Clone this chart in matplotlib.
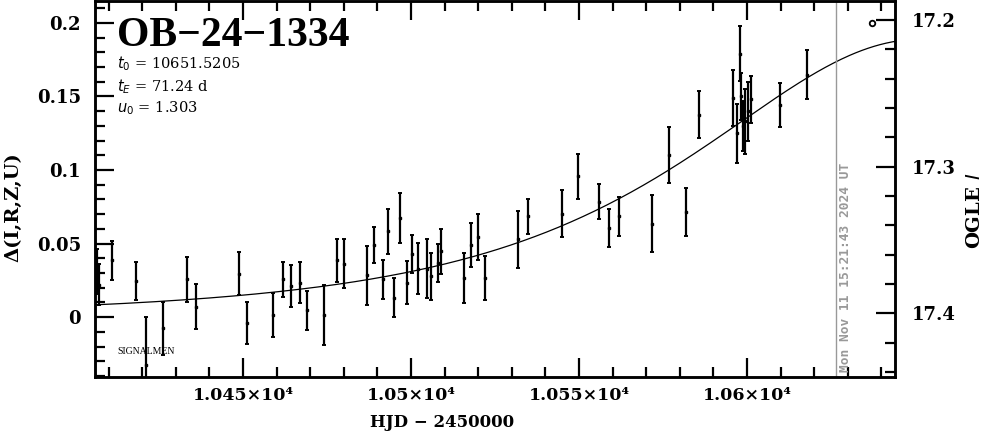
import numpy as np
import matplotlib.pyplot as plt
from matplotlib.ticker import MultipleLocator, FixedLocator, FuncFormatter

# event and model parameters shown on the chart
EVENT = 'OB\u221224\u22121334'
T0 = 10651.5205
TE = 71.24
U0 = 1.303

# photometry: HJD-2450000, delta flux, error
hjd = [10406.5, 10407.2, 10411.0, 10418.1, 10421.1, 10426.1, 10433.2, 10436.0,
       10448.9, 10451.1, 10459.0, 10462.0, 10464.2, 10467.1, 10469.0, 10474.1,
       10478.1, 10480.1, 10486.8, 10489.0, 10491.8, 10493.1, 10495.0, 10496.8,
       10498.7, 10500.2, 10502.0, 10504.9, 10506.0, 10507.9, 10508.9, 10515.9,
       10517.9, 10520.0, 10522.1, 10531.9, 10534.9, 10545.0, 10549.8, 10556.0,
       10559.0, 10561.9, 10571.8, 10576.8, 10581.8, 10585.8, 10595.9, 10596.9,
       10597.9, 10598.3, 10598.8, 10599.5, 10600.3, 10601.3, 10609.8, 10617.9]
dflux = [0.031, 0.022, 0.0386, 0.0246, -0.0325, -0.0075, 0.0258, 0.007,
         0.0296, -0.0043, 0.0014, 0.0256, 0.0212, 0.0235, 0.0047, 0.0014,
         0.0386, 0.0364, 0.0285, 0.0488, 0.0256, 0.0583, 0.0133, 0.0673,
         0.0235, 0.0427, 0.033, 0.033, 0.0278, 0.0368, 0.0447, 0.0267,
         0.0488, 0.0545, 0.0267, 0.0529, 0.0685, 0.0703, 0.0956, 0.0786,
         0.0606, 0.0687, 0.0635, 0.1105, 0.0714, 0.1376, 0.149, 0.125,
         0.179, 0.150, 0.130, 0.133, 0.140, 0.148, 0.1444, 0.1647]
derr = [0.015, 0.014, 0.0132, 0.0132, 0.0325, 0.018, 0.0153, 0.0153,
        0.0148, 0.0143, 0.0149, 0.0121, 0.0141, 0.0139, 0.0133, 0.0203,
        0.0145, 0.0165, 0.0201, 0.0123, 0.0135, 0.0153, 0.013, 0.0169,
        0.0144, 0.013, 0.0173, 0.0203, 0.016, 0.0132, 0.0152, 0.017,
        0.015, 0.0158, 0.0149, 0.0192, 0.012, 0.016, 0.0155, 0.0119,
        0.013, 0.0133, 0.0192, 0.019, 0.0165, 0.0159, 0.019, 0.020,
        0.0186, 0.016, 0.017, 0.022, 0.020, 0.016, 0.015, 0.0167]

NOW_HJD = 10626.5
NOW_TEXT = 'Mon Nov 11 15:21:43 2024 UT'

fig = plt.figure(figsize=(9.99, 4.34), dpi=100)
ax = fig.add_axes([95/999, 1-377/434, 800/999, 376/434])

# Paczynski model from the listed parameters
tm = np.linspace(10405, 10645, 400)
u = np.sqrt(U0**2 + ((tm - T0) / TE)**2)
amp = (u**2 + 2) / (u * np.sqrt(u**2 + 4))
ax.plot(tm, amp - 1, color='black', lw=0.9)

ax.errorbar(hjd, dflux, yerr=derr, fmt='s', ms=2, color='black',
            ecolor='black', elinewidth=1.6, capsize=1.6, capthick=1.4)

ax.plot([10637.2], [0.2], 'o', ms=4, mfc='white', mec='black', mew=1.3)

ax.axvline(NOW_HJD, color='#999999', lw=1)
ax.text(NOW_HJD + 1.0, -0.037, NOW_TEXT, rotation=90, ha='left', va='bottom',
        color='#999999', fontsize=9.3, family='DejaVu Sans Mono', weight='bold')

ax.set_xlim(10405.95, 10644.05)
ax.set_ylim(-0.0407, 0.2149)

xfont = dict(family='DejaVu Serif', weight='bold', size=12.5)
yfont = dict(family='DejaVu Serif', weight='bold', size=13)

ax.xaxis.set_major_locator(FixedLocator([10450, 10500, 10550, 10600]))
ax.xaxis.set_minor_locator(MultipleLocator(10))
ax.xaxis.set_major_formatter(FuncFormatter(
    lambda v, p: ('%g' % (v / 1e4)) + '\u00d710\u2074'))
ax.yaxis.set_major_locator(MultipleLocator(0.05))
ax.yaxis.set_minor_locator(MultipleLocator(0.01))
ax.yaxis.set_major_formatter(FuncFormatter(lambda v, p: '%g' % round(v, 3)))

ax.tick_params(which='both', direction='in', top=True, right=False, width=1.6)
ax.tick_params(which='major', length=14)
ax.tick_params(which='minor', length=7)
ax.tick_params(axis='y', pad=10)
ax.tick_params(axis='x', pad=7)
for lab in ax.get_xticklabels():
    lab.set(**xfont)
for lab in ax.get_yticklabels():
    lab.set(**yfont)
for s in ax.spines.values():
    s.set_linewidth(1.8)

ax2 = ax.twinx()
ax2.set_ylim(17.4435, 17.1871)
ax2.yaxis.set_major_locator(FixedLocator([17.2, 17.3, 17.4]))
ax2.yaxis.set_minor_locator(MultipleLocator(0.02))
ax2.yaxis.set_major_formatter(FuncFormatter(lambda v, p: '%.1f' % v))
ax2.tick_params(which='both', direction='in', width=1.6, pad=12)
ax2.tick_params(which='major', length=14)
ax2.tick_params(which='minor', length=7)
for lab in ax2.get_yticklabels():
    lab.set(**yfont)
for s in ax2.spines.values():
    s.set_linewidth(1.8)

labfont = dict(family='DejaVu Serif', weight='bold', size=12)
ax.set_xlabel('HJD \u2212 2450000', **labfont)
ax.xaxis.set_label_coords(0.434, -0.098)
ax.set_ylabel('\u0394(I,R,Z,U)', family='DejaVu Serif', weight='bold', size=14)
ax.yaxis.set_label_coords(-0.091, 0.451)
ax2.set_ylabel('OGLE $\\mathit{I}$', rotation=90, family='DejaVu Serif',
               weight='bold', size=14)
ax2.yaxis.set_label_coords(1.089, 0.443)

ax.text(0.027, 0.8806, EVENT, transform=ax.transAxes, ha='left', va='baseline',
        family='Liberation Serif', weight='bold', size=30)
params = ['$t_0$ = %.4f' % T0, '$t_E$ = %.2f d' % TE, '$u_0$ = %.3f' % U0]
for i, s in enumerate(params):
    ax.text(0.027, [0.822, 0.761, 0.703][i], s, transform=ax.transAxes,
            ha='left', va='baseline', family='DejaVu Serif', size=10.5)
ax.text(0.028, 0.055, 'SIGNALMEN', transform=ax.transAxes, ha='left',
        va='bottom', family='Liberation Serif', size=7)

fig.savefig('out.png', dpi=100)
